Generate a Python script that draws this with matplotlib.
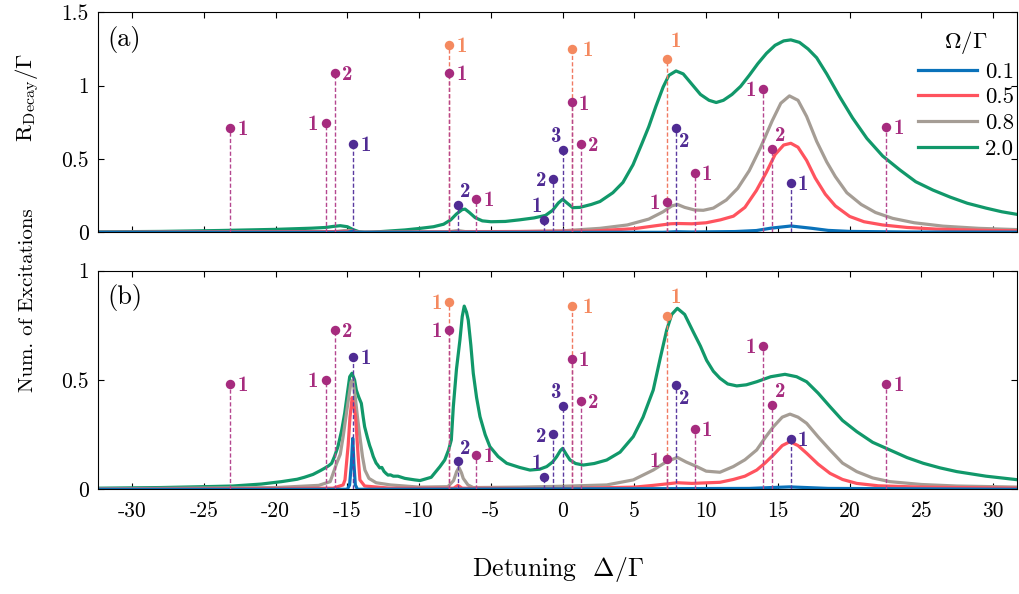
import matplotlib
matplotlib.use("Agg")
import matplotlib.pyplot as plt
from matplotlib.lines import Line2D

plt.rcParams['font.family'] = ['cmr10', 'DejaVu Serif']
plt.rcParams['mathtext.fontset'] = 'cm'
plt.rcParams['axes.unicode_minus'] = False
plt.rcParams['axes.formatter.use_mathtext'] = True

# ---------------- data ----------------
omega_labels = ['0.1', '0.5', '0.8', '2.0']

# panel (a): decay rate
a_green_x = [-32.4, -28, -24, -20, -17.5, -16.5, -16.0, -15.5, -15.0, -14.6, -14.2, -13.8, -13.3, -12.5, -11, -10,
             -9.0, -8.3, -7.8, -7.4, -7.0, -6.8, -6.5, -6.1, -5.6, -5.0, -4.0, -3.0, -2.0, -1.2, -0.7, -0.3, 0.0,
             0.3, 0.7, 1.2, 2.0, 2.6, 3.5, 4.2, 4.9, 5.5, 6.0, 6.5, 7.0, 7.4, 7.9, 8.4, 9.0, 9.6, 10.2, 10.7,
             11.2, 11.8, 12.4, 13.0, 13.6, 14.2, 14.8, 15.4, 15.9, 16.5, 17.1, 17.7, 18.4, 19.3, 20.2, 21.2,
             22.3, 23.5, 24.6, 25.8, 27.0, 28.2, 29.5, 30.6, 31.8]
a_green_y = [0.003, 0.006, 0.012, 0.02, 0.028, 0.033, 0.040, 0.045, 0.038, 0.018, 0.004, 0.0, 0.001, 0.006, 0.016,
             0.026, 0.038, 0.055, 0.085, 0.125, 0.155, 0.158, 0.135, 0.1, 0.078, 0.072, 0.074, 0.085, 0.098, 0.115,
             0.15, 0.2, 0.225, 0.2, 0.168, 0.17, 0.19, 0.21, 0.27, 0.34, 0.46, 0.6, 0.72, 0.86, 0.99, 1.07, 1.10,
             1.08, 1.01, 0.94, 0.9, 0.885, 0.9, 0.94, 0.995, 1.07, 1.15, 1.22, 1.275, 1.305, 1.312, 1.295, 1.25,
             1.19, 1.08, 0.925, 0.78, 0.64, 0.52, 0.425, 0.345, 0.288, 0.24, 0.198, 0.165, 0.14, 0.12]

a_gray_x = [-32.4, -16, -15.2, -14.8, -14.3, -8, -7.3, -6.8, -3, 0, 2.6, 4.5, 6.0, 7.0, 7.6, 8.0, 8.5, 9.2, 9.8,
            10.5, 11.4, 12.2, 13.0, 13.8, 14.6, 15.2, 15.8, 16.4, 17.0, 17.7, 18.4, 19.0, 19.8, 20.8, 21.8,
            23.0, 24.5, 26.5, 29, 31.8]
a_gray_y = [0.0, 0.003, 0.012, 0.01, 0.0, 0.003, 0.012, 0.005, 0.005, 0.01, 0.027, 0.05, 0.09, 0.14, 0.18, 0.19,
            0.17, 0.152, 0.15, 0.165, 0.22, 0.3, 0.42, 0.58, 0.76, 0.88, 0.93, 0.9, 0.79, 0.62, 0.48, 0.38, 0.27,
            0.19, 0.135, 0.095, 0.065, 0.042, 0.027, 0.018]

a_red_x = [-32.4, -15.2, -14.7, -14.2, 2.0, 5.0, 6.5, 7.5, 8.0, 9.0, 10.0, 11.0, 11.9, 12.7, 13.5, 14.2, 14.8,
           15.4, 15.9, 16.4, 17.0, 17.6, 18.3, 19.0, 20.0, 21.0, 22.3, 24.0, 26.0, 29, 31.8]
a_red_y = [0.0, 0.005, 0.008, 0.0, 0.008, 0.025, 0.045, 0.058, 0.06, 0.058, 0.065, 0.085, 0.11, 0.17, 0.285,
           0.41, 0.53, 0.595, 0.607, 0.58, 0.49, 0.37, 0.26, 0.18, 0.108, 0.072, 0.05, 0.033, 0.022, 0.014, 0.01]

a_blue_x = [-32.4, -15.0, -14.7, -14.4, 7.0, 7.9, 9.0, 12.0, 13.5, 14.5, 15.9, 17.3, 18.5, 20.0, 24.0, 31.8]
a_blue_y = [0.0, 0.0, 0.006, 0.0, 0.0, 0.004, 0.002, 0.005, 0.012, 0.028, 0.043, 0.028, 0.013, 0.006, 0.002, 0.001]

# panel (b): number of excitations
b_green_x = [-32.4, -28, -25, -23, -21, -19.6, -18.5, -18.0, -17.4, -16.9, -16.6, -16.3, -16.1, -15.9, -15.66,
             -15.4, -15.19, -15.0, -14.84, -14.68, -14.5, -14.38, -14.2, -14.03, -13.9, -13.8, -13.6, -13.45,
             -13.34, -13.2, -13.0, -12.9, -12.75, -12.6, -12.45, -12.3, -12.17, -12.0, -11.8, -11.48, -11.0,
             -10.31, -9.94, -9.16, -8.55, -8.22, -7.95, -7.76, -7.62, -7.4, -7.16, -7.0, -6.86, -6.7, -6.58,
             -6.4, -6.23, -6.0, -5.76, -5.4, -5.07, -4.5, -3.9, -3.0, -2.28, -1.6, -1.11, -0.7, -0.42, -0.15,
             0.0, 0.25, 0.51, 0.9, 1.44, 2.2, 3.07, 4.0, 4.92, 5.6, 6.31, 6.8, 7.25, 7.6, 7.99, 8.5, 9.1, 9.6,
             10.03, 10.5, 10.96, 11.5, 12.13, 12.8, 13.52, 14.5, 15.49, 16.3, 17.0, 17.8, 18.63, 19.5, 20.49,
             21.6, 22.8, 24.0, 25.13, 26.3, 27.46, 29.5, 31.8]
b_green_y = [0.005, 0.008, 0.012, 0.015, 0.024, 0.035, 0.046, 0.055, 0.068, 0.085, 0.096, 0.108, 0.119, 0.15,
             0.195, 0.27, 0.348, 0.44, 0.515, 0.531, 0.5, 0.454, 0.42, 0.393, 0.33, 0.286, 0.235, 0.2, 0.18, 0.15,
             0.12, 0.112, 0.098, 0.1, 0.082, 0.072, 0.065, 0.066, 0.06, 0.06, 0.05, 0.043, 0.04, 0.055, 0.104,
             0.134, 0.18, 0.226, 0.378, 0.55, 0.683, 0.79, 0.838, 0.81, 0.774, 0.66, 0.531, 0.42, 0.332, 0.25,
             0.195, 0.15, 0.119, 0.1, 0.088, 0.092, 0.104, 0.125, 0.149, 0.178, 0.187, 0.16, 0.134, 0.118, 0.111,
             0.118, 0.134, 0.17, 0.241, 0.33, 0.454, 0.6, 0.729, 0.8, 0.828, 0.8, 0.72, 0.655, 0.59, 0.54, 0.508,
             0.482, 0.473, 0.478, 0.492, 0.515, 0.526, 0.515, 0.492, 0.44, 0.378, 0.315, 0.264, 0.215, 0.18,
             0.145, 0.119, 0.098, 0.081, 0.06, 0.043]

b_gray_x = [-32.4, -20, -17, -16.2, -15.75, -15.5, -15.3, -15.0, -14.75, -14.62, -14.45, -14.3, -14.13, -13.95,
            -13.78, -13.5, -13.0, -12.0, -10, -8.0, -7.6, -7.39, -7.23, -7.05, -6.93, -6.6, -6.23, -3, 0, 3.07,
            4.92, 6.31, 7.2, 7.99, 8.6, 9.34, 10.0, 10.96, 11.89, 12.7, 13.52, 14.1, 14.68, 15.3, 15.84, 16.4,
            17.0, 17.8, 18.63, 19.5, 20.49, 21.6, 22.8, 25, 27.46, 31.8]
b_gray_y = [0.002, 0.008, 0.018, 0.035, 0.119, 0.16, 0.24, 0.38, 0.49, 0.5, 0.42, 0.33, 0.24, 0.15, 0.088, 0.05,
            0.03, 0.02, 0.01, 0.012, 0.04, 0.081, 0.1, 0.075, 0.05, 0.02, 0.008, 0.01, 0.014, 0.02, 0.043, 0.088,
            0.125, 0.146, 0.125, 0.104, 0.083, 0.078, 0.104, 0.135, 0.18, 0.235, 0.286, 0.33, 0.344, 0.33, 0.302,
            0.24, 0.18, 0.12, 0.081, 0.052, 0.035, 0.022, 0.015, 0.01]

b_red_x = [-32.4, -16, -15.3, -15.17, -14.95, -14.82, -14.67, -14.55, -14.43, -14.25, -14.13, -13.8, -12, -7.6,
           -7.3, -7.0, 0, 5, 6.31, 7.99, 9.0, 10.96, 11.89, 12.7, 13.52, 14.1, 14.68, 15.3, 15.84, 16.4, 17.0,
           17.8, 18.63, 19.5, 20.49, 22, 25, 31.8]
b_red_y = [0.0, 0.005, 0.02, 0.043, 0.2, 0.33, 0.42, 0.38, 0.33, 0.15, 0.043, 0.015, 0.005, 0.005, 0.018, 0.005,
           0.003, 0.01, 0.018, 0.03, 0.027, 0.032, 0.045, 0.06, 0.088, 0.12, 0.157, 0.2, 0.218, 0.2, 0.165,
           0.115, 0.073, 0.045, 0.027, 0.016, 0.01, 0.005]

b_blue_x = [-32.4, -15.0, -14.85, -14.72, -14.63, -14.55, -14.45, -14.3, 7.99, 13.0, 15.8, 18.5, 31.8]
b_blue_y = [0.0, 0.0, 0.02, 0.12, 0.233, 0.12, 0.02, 0.0, 0.003, 0.004, 0.011, 0.004, 0.0]

# annotated states (same detunings in both panels)
state_x = [-23.18, -16.52, -15.87, -14.61, -7.92, -7.92, -7.30, -6.02, -1.28, -0.65, 0.0, 0.63, 0.63, 1.25,
           7.29, 7.29, 7.92, 9.2, 13.98, 14.61, 15.89, 22.55]
state_label = ['1', '1', '2', '1', '1', '1', '2', '1', '1', '2', '3', '1', '1', '2', '1', '1', '2', '1', '1', '2',
               '1', '1']
state_kind = ['M', 'M', 'M', 'P', 'O', 'M', 'P', 'M', 'P', 'P', 'P', 'O', 'M', 'M', 'O', 'M', 'P', 'M', 'M', 'M',
              'P', 'M']
state_ya = [0.713, 0.743, 1.084, 0.602, 1.277, 1.084, 0.186, 0.229, 0.084, 0.365, 0.561, 1.25, 0.886, 0.6, 1.181,
            0.207, 0.709, 0.406, 0.977, 0.57, 0.338, 0.716]
state_yb = [0.482, 0.5, 0.729, 0.607, 0.858, 0.729, 0.128, 0.157, 0.058, 0.251, 0.381, 0.84, 0.596, 0.404, 0.794,
            0.137, 0.477, 0.276, 0.657, 0.386, 0.23, 0.483]

# ---------------- styles ----------------
line_colors = ['#0A72BA', '#FF535E', '#A59D95', '#11986A']
kind_color = {'O': '#F4895F', 'M': '#A62B7E', 'P': '#4F2B93'}
stem_color = {'O': '#F07A62', 'M': '#B5478F', 'P': '#5B3AA0'}
place_a = ['r', 'l', 'r', 'r', 'r', 'r', 'ur', 'r', 'ul', 'l', 'ul', 'r2', 'r', 'r', 'uo', 'l', 'dr', 'r', 'l',
           'ur', 'r', 'r']
place_b = ['r', 'l', 'r', 'r', 'l', 'l', 'ur', 'r', 'ul', 'l', 'ul', 'r2', 'r', 'r', 'uo', 'l', 'dr', 'r', 'l',
           'ur', 'r', 'r']
offs = {'r': (9.0, -1.2), 'r2': (11.5, -1.2), 'l': (-9.0, -1.2), 'ur': (5.5, 9.5), 'ul': (-5.5, 9.5),
        'dr': (6.0, -9.5), 'uo': (6.0, 13.0)}

W, H = 1019, 594
fig = plt.figure(figsize=(W / 100, H / 100), dpi=100)
L = 98.3 / W
AW = (1017 - 98.3) / W
ax_a = fig.add_axes([L, 1 - 232.3 / H, AW, 220 / H])
ax_b = fig.add_axes([L, 1 - 489.3 / H, AW, 218.6 / H])

curves = {
    ax_a: [(a_blue_x, a_blue_y), (a_red_x, a_red_y), (a_gray_x, a_gray_y), (a_green_x, a_green_y)],
    ax_b: [(b_blue_x, b_blue_y), (b_red_x, b_red_y), (b_gray_x, b_gray_y), (b_green_x, b_green_y)],
}

xlim = (-32.36, 31.66)
for ax, ys, places, ylim in [(ax_a, state_ya, place_a, (0, 1.5)), (ax_b, state_yb, place_b, (0, 1))]:
    cs = curves[ax]
    for i in [3, 2, 1, 0]:
        x, y = cs[i]
        ax.plot(x, y, color=line_colors[i], lw=2.3, zorder=2 + (3 - i) * 0.1, solid_joinstyle='round')
    for xs, yv, lab, k, p in zip(state_x, ys, state_label, state_kind, places):
        ax.vlines(xs, 0, yv, colors=stem_color[k], linestyles=(0, (3.0, 1.6)), lw=1.0, zorder=4)
        ax.plot([xs], [yv], 'o', color=kind_color[k], ms=6.8, mec='none', zorder=5)
        ax.annotate(lab, (xs, yv), xytext=offs[p], textcoords='offset points', ha='center', va='center',
                    color=kind_color[k], fontsize=15, family='cmb10', zorder=6)
    ax.set_xlim(*xlim)
    ax.set_ylim(*ylim)
    ax.tick_params(direction='in', top=True, right=True, length=4, width=0.8, labelsize=15.5, pad=7)
    ax.set_xticks(range(-30, 31, 5))
    for s in ax.spines.values():
        s.set_linewidth(0.8)

ax_a.set_yticks([0, 0.5, 1, 1.5])
ax_a.set_yticklabels(['0', '0.5', '1', '1.5'])
ax_a.set_xticklabels([])
ax_b.set_yticks([0, 0.5, 1])
ax_b.set_yticklabels(['0', '0.5', '1'])
ax_b.set_xticklabels([str(v) for v in range(-30, 31, 5)])
ax_b.tick_params(axis='x', pad=9)

ax_a.set_ylabel(r'$\mathrm{R}_{\mathrm{Decay}}/\Gamma$', fontsize=16.5)
ax_a.yaxis.set_label_coords(-0.061, 0.615)
ax_b.set_ylabel('Num. of Excitations', fontsize=15)
ax_b.yaxis.set_label_coords(-0.067, 0.866)
ax_b.set_xlabel(r'Detuning  $\Delta/\Gamma$', fontsize=18.5)
ax_b.xaxis.set_label_coords(0.5, -0.30)

ax_a.text(0.0095, 0.94, '(a)', transform=ax_a.transAxes, fontsize=19, va='top', ha='left')
ax_b.text(0.0095, 0.94, '(b)', transform=ax_b.transAxes, fontsize=19, va='top', ha='left')

handles = [Line2D([], [], color=c, lw=2.3) for c in line_colors]
leg = ax_a.legend(handles, omega_labels, title=r'$\Omega/\Gamma$', loc='upper right',
                  bbox_to_anchor=(0.997, 0.925), frameon=False, fontsize=16.5, title_fontsize=16.5,
                  handlelength=2.6, handletextpad=0.35, labelspacing=0.25, borderpad=0, borderaxespad=0)

fig.savefig('out.png', dpi=100)
